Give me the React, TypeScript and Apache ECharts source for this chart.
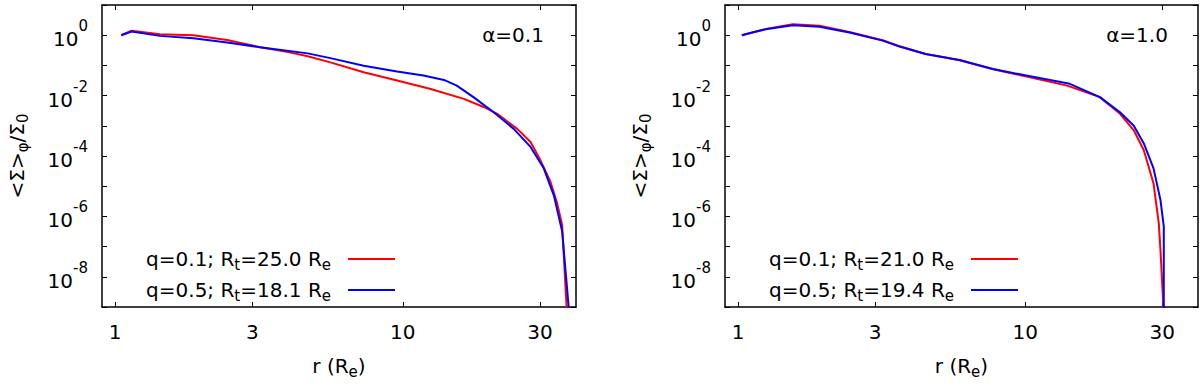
import React, { useEffect, useRef } from 'react';
import * as echarts from 'echarts';

// ---- axes ----
const xTickValues = [1, 3, 10, 30];
const xRange = [0.9, 40];
const yExpRange = [-9, 1];
const panelLabels = ['α=0.1', 'α=1.0'];

// ---- legend texts ----
const qValues = ['0.1', '0.5'];
const rtLeft = ['25.0', '18.1'];
const rtRight = ['21.0', '19.4'];

// ---- left panel (alpha = 0.1) ----
const rLeftRed = [1.05, 1.14, 1.43, 1.87, 2.45, 3.19, 4.0, 4.67, 5.6, 7.31, 9.55, 12.5, 16.3, 19.1, 21.3, 25.0, 27.8, 30.1, 32.6, 34.4, 35.8, 37.1, 37.4];
const sLeftRed = [1.0, 1.4, 1.08, 1.0, 0.69, 0.4, 0.275, 0.2, 0.126, 0.059, 0.0316, 0.0166, 0.0078, 0.0042, 0.0025, 7.9e-4, 2.9e-4, 7.2e-5, 1.4e-5, 2.7e-6, 5.2e-7, 1.0e-9, 1e-10];
const rLeftBlue = [1.05, 1.14, 1.43, 1.87, 2.45, 3.19, 4.67, 5.6, 7.31, 9.55, 11.8, 13.9, 15.4, 17.6, 20.7, 24.3, 27.8, 30.9, 33.5, 35.8, 37.7, 38.0];
const sLeftBlue = [1.0, 1.32, 0.95, 0.79, 0.575, 0.4, 0.25, 0.174, 0.098, 0.063, 0.046, 0.033, 0.0214, 0.0089, 0.0028, 7.9e-4, 2.0e-4, 3.9e-5, 5.0e-6, 3.2e-7, 1.05e-9, 1e-10];

// ---- right panel (alpha = 1.0) ----
const rRightRed = [1.03, 1.12, 1.25, 1.55, 1.92, 2.44, 3.19, 3.65, 4.5, 5.91, 7.73, 10.1, 14.0, 18.2, 21.4, 23.9, 25.9, 28.0, 29.2, 29.6, 30.3, 30.35];
const sRightRed = [1.0, 1.23, 1.62, 2.29, 2.04, 1.29, 0.68, 0.43, 0.24, 0.148, 0.074, 0.043, 0.0214, 0.0089, 0.0025, 7.1e-4, 1.55e-4, 1.23e-5, 6.0e-7, 7.8e-8, 1.05e-9, 1e-10];
const rRightBlue = [1.03, 1.12, 1.25, 1.55, 1.92, 2.44, 3.19, 3.65, 4.5, 5.91, 7.73, 10.1, 14.3, 18.2, 21.4, 23.9, 25.9, 28.0, 29.6, 30.4, 30.4];
const sRightBlue = [1.0, 1.22, 1.58, 2.14, 1.91, 1.23, 0.66, 0.42, 0.24, 0.151, 0.076, 0.046, 0.0245, 0.0089, 0.0028, 1.0e-3, 2.6e-4, 3.9e-5, 3.5e-6, 4.6e-7, 1e-10];

const RED = '#ff0000';
const BLUE = '#0000ff';
const FONT = 'DejaVu Sans';
const FS = 20;

const rich = {
  b: { fontFamily: FONT, fontSize: FS, color: '#000', padding: [8, 0, 0, 0] },
  s: { fontFamily: FONT, fontSize: 15, color: '#000', padding: [0, 0, 18, 0] },
  sub: { fontFamily: FONT, fontSize: 15, color: '#000', padding: [11, 0, 0, 0] },
  gap: { width: 12 },
};

const toPairs = (r: number[], s: number[]) => r.map((v, i) => [Math.log10(v), Math.log10(s[i])]);
const legendName = (q: string, rt: string) => `q=${q}; Rt=${rt} Re`;
const legendRich = (name: string) => name.replace('Rt=', 'R{sub|t}=').replace(' Re', ' R{sub|e}') + '{gap|}';

export default function App() {
  const ref = useRef<HTMLDivElement>(null);
  useEffect(() => {
    document.body.style.margin = '0';
    const chart = echarts.init(ref.current!, null, { renderer: 'svg' });
    const xTicks = xTickValues.map((v) => Math.log10(v));
    const xMin = Math.log10(xRange[0]);
    const xMax = Math.log10(xRange[1]);

    const xAxis = (gridIndex: number, position: string, main: boolean) => ({
      type: 'value',
      gridIndex,
      position,
      min: xMin,
      max: xMax,
      axisLine: { show: true, onZero: false, lineStyle: { color: '#000', width: 1.5 } },
      axisTick: { show: true, inside: true, length: 5, customValues: xTicks, lineStyle: { color: '#000', width: 1 } },
      axisLabel: {
        show: main,
        customValues: xTicks,
        margin: 15,
        fontFamily: FONT,
        fontSize: FS,
        color: '#000',
        formatter: (v: number) => String(Math.round(Math.pow(10, v))),
      },
      splitLine: { show: false },
      name: main ? 'r (R{sub|e})' : '',
      nameLocation: 'middle',
      nameGap: 46,
      nameTextStyle: { fontFamily: FONT, fontSize: FS, color: '#000', rich },
    });

    const yAxis = (gridIndex: number, position: string, main: boolean) => ({
      type: 'value',
      gridIndex,
      position,
      min: yExpRange[0],
      max: yExpRange[1],
      interval: 1,
      axisLine: { show: true, onZero: false, lineStyle: { color: '#000', width: 1.5 } },
      axisTick: { show: true, inside: true, length: 5, lineStyle: { color: '#000', width: 1 } },
      axisLabel: {
        show: main,
        margin: 14,
        color: '#000',
        rich,
        formatter: (v: number) => (v <= 0 && Math.round(v) % 2 === 0 ? `{b|10}{s|${Math.round(v)}}` : ''),
      },
      splitLine: { show: false },
      name: main ? '<Σ>{sub|φ}/Σ{sub|0}' : '',
      nameLocation: 'middle',
      nameRotate: 90,
      nameGap: 72,
      nameTextStyle: { fontFamily: FONT, fontSize: FS, color: '#000', rich },
    });

    const names = [
      legendName(qValues[0], rtLeft[0]),
      legendName(qValues[1], rtLeft[1]),
      legendName(qValues[0], rtRight[0]),
      legendName(qValues[1], rtRight[1]),
    ];

    const line = (name: string, color: string, axis: number, data: number[][]) => ({
      name,
      type: 'line',
      xAxisIndex: axis,
      yAxisIndex: axis,
      data,
      symbol: 'none',
      clip: true,
      lineStyle: { color, width: 2 },
      itemStyle: { color },
      emphasis: { disabled: true },
    });

    const legend = (data: string[], right: number) => ({
      data,
      orient: 'vertical',
      right,
      top: 244,
      align: 'right',
      icon: 'rect',
      itemWidth: 47,
      itemHeight: 2,
      itemGap: 8,
      selectedMode: false,
      textStyle: { fontFamily: FONT, fontSize: FS, color: '#000', rich },
      formatter: legendRich,
    });

    chart.setOption({
      animation: false,
      backgroundColor: '#fff',
      grid: [
        { left: 102, top: 5, width: 474, height: 302, outerBoundsMode: 'none', containLabel: false },
        { left: 725, top: 5, width: 473, height: 302, outerBoundsMode: 'none', containLabel: false },
      ],
      xAxis: [xAxis(0, 'bottom', true), xAxis(0, 'top', false), xAxis(1, 'bottom', true), xAxis(1, 'top', false)],
      yAxis: [yAxis(0, 'left', true), yAxis(0, 'right', false), yAxis(1, 'left', true), yAxis(1, 'right', false)],
      legend: [legend([names[0], names[1]], 800), legend([names[2], names[3]], 177)],
      graphic: [
        { type: 'text', x: 513, y: 35, style: { text: panelLabels[0], fontFamily: FONT, fontSize: FS, fill: '#000', textAlign: 'center', textVerticalAlign: 'middle' } },
        { type: 'text', x: 1137, y: 35, style: { text: panelLabels[1], fontFamily: FONT, fontSize: FS, fill: '#000', textAlign: 'center', textVerticalAlign: 'middle' } },
      ],
      series: [
        line(names[0], RED, 0, toPairs(rLeftRed, sLeftRed)),
        line(names[1], BLUE, 0, toPairs(rLeftBlue, sLeftBlue)),
        line(names[2], RED, 2, toPairs(rRightRed, sRightRed)),
        line(names[3], BLUE, 2, toPairs(rRightBlue, sRightBlue)),
      ],
    });
    return () => chart.dispose();
  }, []);
  return <div ref={ref} style={{ width: 1200, height: 384 }} />;
}
